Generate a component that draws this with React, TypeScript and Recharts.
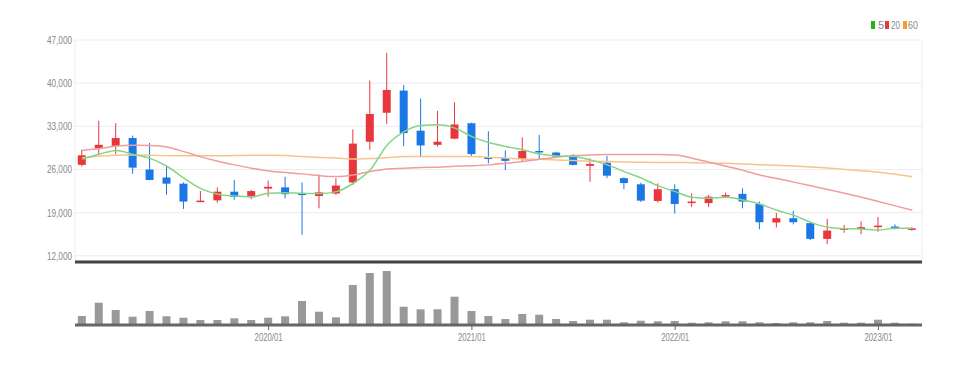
import { ComposedChart, Bar, Line, XAxis, YAxis, CartesianGrid } from 'recharts';

// monthly candles, 2019/02 .. 2023/03
const months = [
  '2019/02', '2019/03', '2019/04', '2019/05', '2019/06', '2019/07', '2019/08', '2019/09', '2019/10', '2019/11', '2019/12',
  '2020/01', '2020/02', '2020/03', '2020/04', '2020/05', '2020/06', '2020/07', '2020/08', '2020/09', '2020/10', '2020/11', '2020/12',
  '2021/01', '2021/02', '2021/03', '2021/04', '2021/05', '2021/06', '2021/07', '2021/08', '2021/09', '2021/10', '2021/11', '2021/12',
  '2022/01', '2022/02', '2022/03', '2022/04', '2022/05', '2022/06', '2022/07', '2022/08', '2022/09', '2022/10', '2022/11', '2022/12',
  '2023/01', '2023/02', '2023/03',
];

const opens = [
  26750, 29400, 29800, 31100, 26000, 24700, 23700, 20750, 21000, 22400,
  21500, 22900, 23100, 22100, 21700, 22100, 23900, 30500, 35200, 38800,
  32300, 30000, 31000, 33500, 28000, 27850, 27700, 29000, 28750, 28250,
  26600, 27100, 24600, 23600, 20900, 22800, 20550, 20550, 21600, 22050,
  20400, 17400, 18100, 17300, 14750, 16200, 16350, 16650, 16750, 16250,
];
const highs = [
  29200, 33900, 33500, 31500, 30300, 26600, 23900, 22500, 23100, 24300,
  22700, 24200, 24800, 23900, 25200, 24600, 32500, 40400, 44900, 39700,
  37500, 35500, 36900, 33600, 32200, 29100, 31200, 31600, 28900, 28500,
  27800, 28200, 24700, 23850, 23750, 23600, 22150, 21850, 22250, 22950,
  20800, 18950, 19250, 17400, 18000, 17000, 17600, 18300, 17100, 16650,
];
const lows = [
  26500, 28500, 28500, 25300, 24250, 21900, 19600, 20700, 20600, 21100,
  21200, 21600, 21300, 15400, 19700, 21900, 23500, 29200, 33400, 29800,
  28000, 29700, 30900, 28200, 27000, 25900, 27200, 27700, 27850, 26650,
  24000, 24600, 22800, 20750, 20650, 18850, 19900, 19900, 21350, 19700,
  16300, 16600, 17100, 14550, 13900, 15750, 15500, 15900, 16300, 16100,
];
const closes = [
  28300, 30000, 31100, 26300, 24300, 23700, 20800, 20950, 22400, 21550,
  22500, 23200, 22000, 21850, 22300, 23400, 30200, 35000, 38900, 31900,
  29900, 30500, 33300, 28500, 27700, 27400, 29000, 28800, 28100, 26750,
  26900, 25000, 23800, 20950, 22800, 20400, 20800, 21600, 21850, 20800,
  17450, 18100, 17450, 14750, 16100, 16450, 16650, 16900, 16350, 16450,
];
const volumes = [
  900000, 2230000, 1500000, 830000, 1400000, 870000, 730000, 500000, 500000, 670000,
  500000, 730000, 870000, 2400000, 1330000, 770000, 4000000, 5200000, 5400000, 1830000,
  1570000, 1570000, 2830000, 1400000, 900000, 600000, 1100000, 1030000, 600000, 400000,
  530000, 530000, 270000, 430000, 370000, 400000, 230000, 270000, 370000, 370000,
  270000, 200000, 270000, 270000, 400000, 230000, 230000, 530000, 230000, 130000,
];
const ma5 = [
  27670, 28480, 29100, 28450, 27800, 26530, 24600, 22900, 22000, 21700,
  21600, 22150, 22250, 22150, 22100, 22410, 23770, 25940, 29990, 32150,
  33150, 33250, 32710, 31340, 30370, 29720, 29190, 28500, 28200, 28100,
  27560, 26750, 25660, 24600, 23340, 22410, 21490, 21330, 21490, 21060,
  20400, 19380, 18570, 17440, 16630, 16400, 16350, 16190, 16470, 16470,
];
const ma20 = [
  29100, 29400, 29800, 29950, 29900, 29650, 28900, 28050, 27350, 26750,
  26210, 25770, 25500, 25290, 25000, 24850, 25120, 25660, 26100, 26210,
  26320, 26380, 26530, 26590, 26750, 27020, 27280, 27670, 28000, 28260,
  28350, 28420, 28420, 28420, 28420, 28370, 27840, 27180, 26530, 25880,
  25100, 24550, 23950, 23350, 22750, 22150, 21500, 20800, 20100, 19400,
];
const ma60 = [
  27900, 28150, 28300, 28370, 28300, 28250, 28210, 28210, 28210, 28260,
  28320, 28320, 28260, 28100, 27950, 27850, 27700, 27780, 27940, 28100,
  28100, 28100, 28100, 28100, 28000, 27850, 27720, 27650, 27560, 27450,
  27340, 27280, 27230, 27180, 27150, 27150, 27100, 27050, 27000, 26900,
  26780, 26680, 26570, 26420, 26230, 26020, 25800, 25560, 25230, 24850,
];

const priceTicks = [12000, 19000, 26000, 33000, 40000, 47000];

const UP = '#e8363d';
const DOWN = '#1a78e6';
const MA_COLORS = { ma5: '#86d486', ma20: '#f29c9c', ma60: '#f7c48e' };

const data = months.map((m, i) => ({
  i,
  month: m,
  open: opens[i],
  high: highs[i],
  low: lows[i],
  close: closes[i],
  volume: volumes[i],
  ma5: ma5[i],
  ma20: ma20[i],
  ma60: ma60[i],
}));

const janTicks = data.filter((d) => d.month.endsWith('/01')).map((d) => d.i);
const X_DOMAIN = [-0.43, 49.57];
const FONT = '"Liberation Sans", Arial, sans-serif';

const fmt = (v: number) => String(v).replace(/\B(?=(\d{3})+(?!\d))/g, ',');

const YTick = ({ x, y, payload }: any) => (
  <text x={x} y={y} dy="0.355em" textAnchor="end" fontSize={11} fill="#888"
    fontFamily={FONT} textLength={25} lengthAdjust="spacingAndGlyphs">
    {fmt(payload.value)}
  </text>
);

const XTick = ({ x, y, payload }: any) => (
  <text x={x} y={y} dy="0.71em" textAnchor="middle" fontSize={10.5} fill="#888"
    fontFamily={FONT} textLength={28} lengthAdjust="spacingAndGlyphs">
    {months[payload.value]}
  </text>
);

// draws wick + body from the [low, high] bar the library positions
const Candle = (props: any) => {
  const { x, y, width, height, payload } = props;
  const { open, close, high, low } = payload;
  const top = Math.min(y, y + height);
  const h = Math.abs(height);
  const ratio = h / (high - low || 1);
  const bodyTop = top + (high - Math.max(open, close)) * ratio;
  const bodyBot = top + (high - Math.min(open, close)) * ratio;
  const color = close >= open ? UP : DOWN;
  const cx = x + width / 2;
  return (
    <g>
      <line x1={cx} x2={cx} y1={top} y2={top + h} stroke={color} strokeWidth={1} />
      <rect x={x} y={bodyTop} width={width} height={Math.max(bodyBot - bodyTop, 1.5)} fill={color} />
    </g>
  );
};

function Legend() {
  return (
    <svg width={70} height={20} style={{ position: 'absolute', left: 860, top: 15 }}>
      <rect x={11} y={6} width={4} height={8} fill="#1db51d" />
      <text x={18} y={14} fontSize={11} fill="#888" fontFamily={FONT}>5</text>
      <rect x={25} y={6} width={4} height={8} fill={UP} />
      <text x={31} y={14} fontSize={11} fill="#888" fontFamily={FONT} textLength={9} lengthAdjust="spacingAndGlyphs">20</text>
      <rect x={43} y={6} width={4} height={8} fill="#f39c38" />
      <text x={48} y={14} fontSize={11} fill="#888" fontFamily={FONT} textLength={10} lengthAdjust="spacingAndGlyphs">60</text>
    </svg>
  );
}

export default function App() {
  return (
    <div style={{ position: 'absolute', left: 0, top: 0, width: 968, height: 365, background: '#fff' }}>
      <div style={{ position: 'absolute', left: 0, top: 0 }}>
        <ComposedChart width={968} height={264} data={data} margin={{ top: 40, right: 46, bottom: 0, left: 0 }}>
          <CartesianGrid stroke="#ececec" />
          <XAxis
            dataKey="i"
            type="number"
            domain={X_DOMAIN}
            ticks={janTicks}
            interval={0}
            tick={false}
            tickLine={false}
            axisLine={{ stroke: '#444', strokeWidth: 3 }}
            height={2}
          />
          <YAxis
            domain={[11000, 47000]}
            ticks={priceTicks}
            interval={0}
            allowDataOverflow
            axisLine={false}
            tickLine={false}
            tickSize={0}
            tickMargin={3}
            width={75}
            tick={<YTick />}
          />
          <Line type="monotone" dataKey="ma60" stroke={MA_COLORS.ma60} strokeWidth={1.5} dot={false} isAnimationActive={false} />
          <Line type="monotone" dataKey="ma20" stroke={MA_COLORS.ma20} strokeWidth={1.5} dot={false} isAnimationActive={false} />
          <Line type="monotone" dataKey="ma5" stroke={MA_COLORS.ma5} strokeWidth={1.5} dot={false} isAnimationActive={false} />
          <Bar
            dataKey={(d: any) => [d.low, d.high]}
            barSize={8}
            shape={<Candle />}
            isAnimationActive={false}
          />
        </ComposedChart>
      </div>
      <div style={{ position: 'absolute', left: 0, top: 262 }}>
        <ComposedChart width={968} height={90} data={data} margin={{ top: 3, right: 46, bottom: 0, left: 75 }}>
          <XAxis
            dataKey="i"
            type="number"
            domain={X_DOMAIN}
            ticks={janTicks}
            interval={0}
            axisLine={{ stroke: '#666', strokeWidth: 3 }}
            tickLine={{ stroke: '#666' }}
            tickSize={5}
            tickMargin={4}
            height={27}
            tick={<XTick />}
          />
          <YAxis hide domain={[0, 6000000]} />
          <Bar dataKey="volume" barSize={8} fill="#999" isAnimationActive={false} />
        </ComposedChart>
      </div>
      <Legend />
    </div>
  );
}
